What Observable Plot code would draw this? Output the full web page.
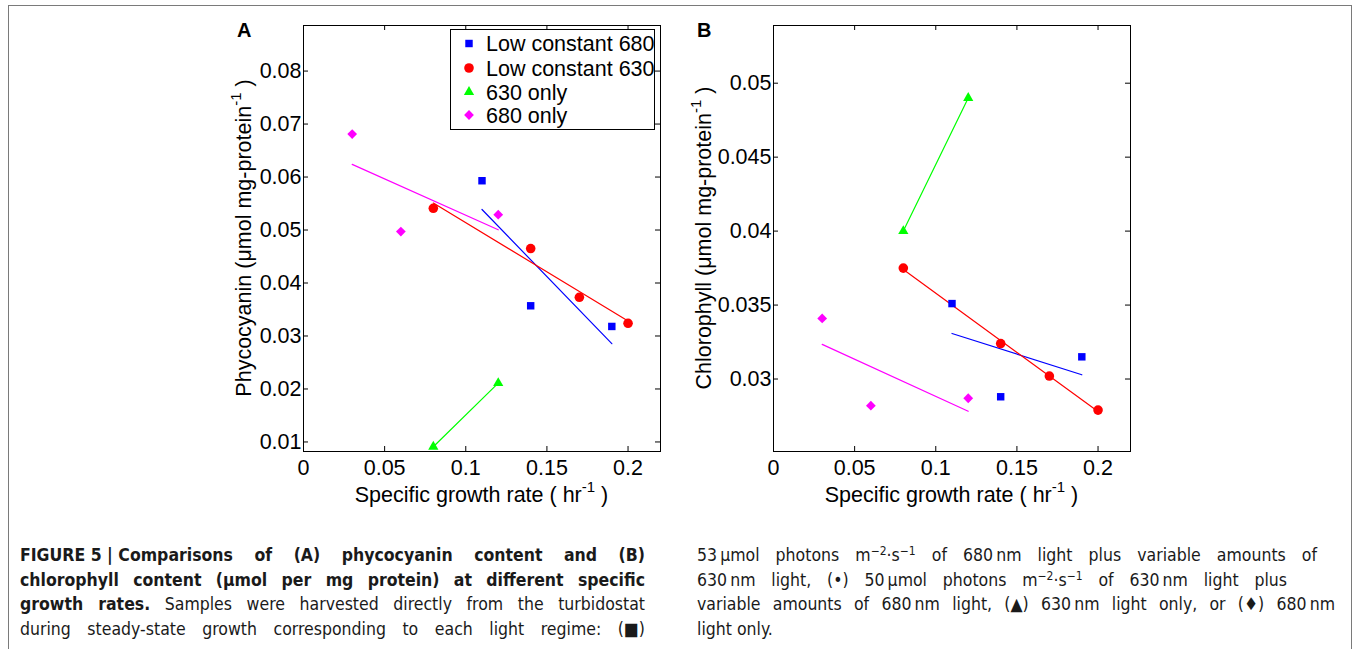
<!DOCTYPE html>
<html>
<head>
<meta charset="utf-8">
<script src="https://cdn.jsdelivr.net/npm/d3@7"></script>
<script src="https://cdn.jsdelivr.net/npm/@observablehq/plot@0.6"></script>
<style>
  body { margin: 0; background: #fff; }
  #page { position: relative; width: 1355px; height: 649px; overflow: hidden; background: #fff;
          font-family: "Liberation Sans", Arial, sans-serif; color: #000; }
  #frame { position: absolute; left: 8px; top: 5px; width: 1344px; height: 700px; border: 1.5px solid #7a7a7a; box-sizing: border-box; }
  .chart { position: absolute; top: 10px; }
  .plabel { position: absolute; top: 20px; font-weight: bold; font-size: 20px; line-height: 20px; }
  #legend { position: absolute; left: 450px; top: 29px; width: 205px; height: 101px; border: 1px solid #000;
            background: #fff; box-sizing: border-box; }
  .cap { position: absolute; top: 543px; font-family: "DejaVu Sans Condensed", "DejaVu Sans", sans-serif;
         font-stretch: condensed; font-size: 17.5px; color: #1a1a1a; }
  .cap div { height: 24.7px; line-height: 24.7px; text-align: justify; text-align-last: justify; text-justify: inter-word; overflow: visible; }
  .cap div.left { text-align: left; text-align-last: left; }
  .cap sup { font-size: 12px; line-height: 0; vertical-align: 6px; }
  .cap .k { display: inline-block; }
</style>
</head>
<body>
<div id="page">
  <div id="frame"></div>
  <div id="chartA" class="chart" style="left:200px"></div>
  <div id="chartB" class="chart" style="left:670px"></div>
  <div class="plabel" style="left:237px">A</div>
  <div class="plabel" style="left:697px">B</div>
  <div id="legend"></div>
  <div class="cap" style="left:20px;width:625px">
    <div><b><span class="k">FIGURE 5 | Comparisons</span> of (A) phycocyanin content and (B)</b></div>
    <div><b>chlorophyll content (μmol per mg protein) at different specific</b></div>
    <div><b>growth rates.</b> Samples were harvested directly from the turbidostat</div>
    <div>during steady-state growth corresponding to each light regime: <span class="k">(■)</span></div>
  </div>
  <div class="cap" style="left:697px;width:640px">
    <div style="width:620px">53&thinsp;μmol photons <span class="k">m<sup>−2</sup>·s<sup>−1</sup></span> of 680&thinsp;nm light plus variable amounts of</div>
    <div style="width:590px">630&thinsp;nm light, <span class="k">(•)</span> 50&thinsp;μmol photons <span class="k">m<sup>−2</sup>·s<sup>−1</sup></span> of 630&thinsp;nm light plus</div>
    <div style="width:638px">variable amounts of 680&thinsp;nm light, <span class="k">(▲)</span> 630&thinsp;nm light only, or <span class="k">(♦)</span> 680&thinsp;nm</div>
    <div class="left">light only.</div>
  </div>
</div>
<script>
// ---- data ----
const growth680const = [0.11, 0.14, 0.19];
const growth630const = [0.08, 0.14, 0.17, 0.20];
const growth630only  = [0.08, 0.12];
const growth680only  = [0.03, 0.06, 0.12];

const phyco680const = [0.0593, 0.0357, 0.0318];
const phyco630const = [0.0541, 0.0465, 0.0373, 0.0324];
const phyco630only  = [0.0091, 0.0211];
const phyco680only  = [0.0681, 0.0497, 0.0529];

const chl680const = [0.0351, 0.0288, 0.0315];
const chl630const = [0.0375, 0.0324, 0.0302, 0.0279];
const chl630only  = [0.0400, 0.0490];
const chl680only  = [0.0341, 0.0282, 0.0287];

const seriesNames   = ["Low constant 680", "Low constant 630", "630 only", "680 only"];
const seriesColors  = ["#0000ff", "#ff0000", "#00ff00", "#ff00ff"];
const seriesSymbols = ["square", "circle", "triangle", "diamond2"];
const seriesRadii   = [4.2, 4.8, 3.8, 4.4];

const xTicks  = [0, 0.05, 0.1, 0.15, 0.2];
const yTicksA = [0.01, 0.02, 0.03, 0.04, 0.05, 0.06, 0.07, 0.08];
const yTicksB = [0.03, 0.035, 0.04, 0.045, 0.05];
const xDomain  = [0, 0.22];
const yDomainA = [0.0082, 0.0886];
const yDomainB = [0.0251, 0.0539];

const growthSets = [growth680const, growth630const, growth630only, growth680only];

function rowsFor(valueSets) {
  return valueSets.map((vals, i) => growthSets[i].map((g, j) => ({series: seriesNames[i], x: g, y: vals[j]})));
}

const W = 480, H = 520, ML = 103, MR = 20, MT = 15, MB = 79;
const innerW = W - ML - MR, innerH = H - MT - MB;
const tick = 5;
const FS = 21.5;

function panel(valueSets, yDomain, yTicks, yLabelMain, yLabelX) {
  const groups = rowsFor(valueSets);
  const marks = [];
  groups.forEach((rows, i) => {
    marks.push(Plot.linearRegressionY(rows, {x: "x", y: "y", stroke: seriesColors[i], ci: 0, strokeWidth: 1.2}));
  });
  groups.forEach((rows, i) => {
    marks.push(Plot.dot(rows, {x: "x", y: "y", symbol: seriesSymbols[i], r: seriesRadii[i], fill: seriesColors[i], stroke: "none"}));
  });
  marks.push(
    Plot.ruleX(xTicks, {x: d => d, insetTop: innerH - tick, stroke: "#000"}),
    Plot.ruleX(xTicks, {x: d => d, insetBottom: innerH - tick, stroke: "#000"}),
    Plot.ruleY(yTicks, {y: d => d, insetRight: innerW - tick, stroke: "#000"}),
    Plot.ruleY(yTicks, {y: d => d, insetLeft: innerW - tick, stroke: "#000"}),
    Plot.axisX(xTicks, {tickSize: 0, tickPadding: 8, tickFormat: d => String(d), label: null}),
    Plot.axisY(yTicks, {tickSize: 0, tickPadding: 2, tickFormat: d => String(d), label: null}),
    Plot.frame({stroke: "#000"})
  );
  const svg = Plot.plot({
    width: W, height: H, marginLeft: ML, marginRight: MR, marginTop: MT, marginBottom: MB,
    style: {fontFamily: "Liberation Sans, Arial, sans-serif", fontSize: FS + "px", color: "#000", background: "transparent", overflow: "visible"},
    x: {domain: xDomain},
    y: {domain: yDomain},
    marks
  });
  const s = d3.select(svg);
  // x label
  const xl = s.append("text")
    .attr("x", ML + innerW / 2).attr("y", H - MB + 51)
    .attr("text-anchor", "middle").attr("font-size", FS).attr("fill", "#000");
  xl.append("tspan").text("Specific growth rate ( hr");
  xl.append("tspan").attr("dy", -10).attr("font-size", 15).text("-1");
  xl.append("tspan").attr("dy", 10).text(" )");
  // y label
  const yl = s.append("text")
    .attr("transform", `translate(${yLabelX},${MT + innerH / 2}) rotate(-90)`)
    .attr("y", 7.5)
    .attr("text-anchor", "middle").attr("font-size", FS).attr("fill", "#000");
  yl.append("tspan").text(yLabelMain + " (μmol mg-protein");
  yl.append("tspan").attr("dy", -10).attr("font-size", 15).text("-1");
  yl.append("tspan").attr("dy", 10).text(" )");
  return svg;
}

document.getElementById("chartA").appendChild(
  panel([phyco680const, phyco630const, phyco630only, phyco680only], yDomainA, yTicksA, "Phycocyanin", 43));
document.getElementById("chartB").appendChild(
  panel([chl680const, chl630const, chl630only, chl680only], yDomainB, yTicksB, "Chlorophyll", 33));

// legend (panel A)
const symMap = {square: d3.symbolSquare, circle: d3.symbolCircle, triangle: d3.symbolTriangle, diamond2: d3.symbolDiamond2};
const leg = d3.select("#legend").append("svg").attr("width", 203).attr("height", 99)
  .style("font-family", "Liberation Sans, Arial, sans-serif");
const rowY = [13.5, 38, 62, 85];
seriesNames.forEach((name, i) => {
  const r = seriesRadii[i];
  leg.append("path")
    .attr("d", d3.symbol(symMap[seriesSymbols[i]], r * r * Math.PI)())
    .attr("transform", `translate(18,${rowY[i]})`)
    .attr("fill", seriesColors[i]);
  leg.append("text").attr("x", 35).attr("y", rowY[i]).attr("dy", "0.36em")
    .attr("font-size", FS).attr("fill", "#000").text(name);
});
</script>
</body>
</html>
